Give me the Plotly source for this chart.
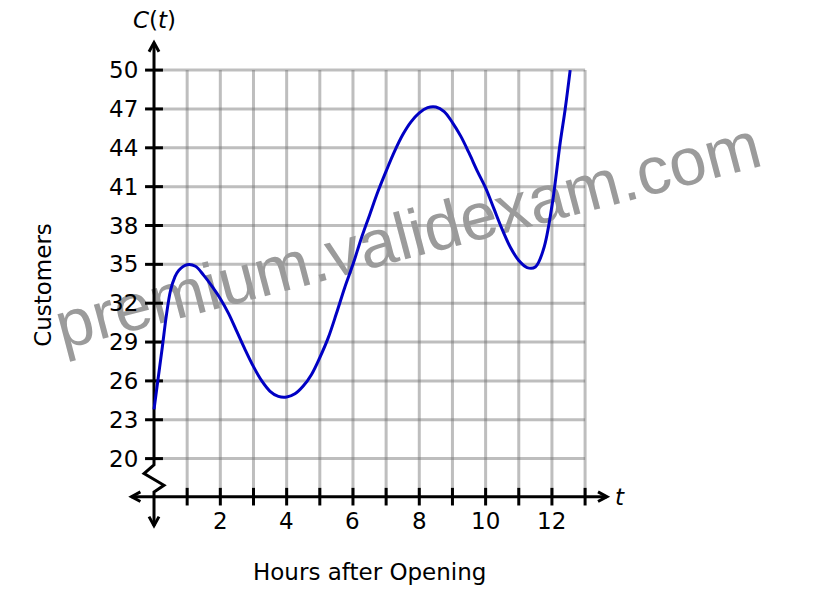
import plotly.graph_objects as go

# values
hours = [0, 0.125, 0.25, 0.375, 0.5, 0.625, 0.75, 1.0, 1.25, 1.5, 1.75, 2.0, 2.25, 2.5,
         2.75, 3.0, 3.25, 3.5, 3.75, 4.0, 4.25, 4.5, 4.75, 5.0, 5.25, 5.5, 5.75, 6.0,
         6.25, 6.5, 6.75, 7.0, 7.25, 7.5, 7.75, 8.0, 8.25, 8.5, 8.75, 9.0, 9.25,
         9.5, 9.75, 10.0, 10.25, 10.5, 10.75, 11.0, 11.25, 11.5, 11.75, 12.0, 12.25,
         12.4, 12.55]
customers = [23.8, 26.2, 28.6, 31.1, 33.0, 34.0, 34.55, 34.97, 34.85, 34.15, 33.3,
             32.35, 31.2, 29.8, 28.4, 27.1, 26.0, 25.2, 24.8, 24.75, 25.0, 25.6,
             26.5, 27.8, 29.3, 31.2, 33.2, 35.0, 37.0, 38.8, 40.6, 42.2, 43.7, 45.0,
             46.0, 46.7, 47.1, 47.15, 46.8, 45.95, 44.9, 43.6, 42.2, 40.9, 39.3,
             37.7, 36.3, 35.3, 34.75, 34.8, 36.2, 39.5, 44.4, 47.0, 50.0]

y_ticks = [20, 23, 26, 29, 32, 35, 38, 41, 44, 47, 50]
x_ticks = list(range(1, 14))
x_labels = [2, 4, 6, 8, 10, 12]

AXIS_Y = 17.06   # height where the t axis is drawn (below the break)
FONT = "DejaVu Sans"

fig = go.Figure()
fig.add_trace(go.Scatter(
    x=hours, y=customers, mode="lines",
    line=dict(color="#0000c4", width=3, shape="spline", smoothing=1.0),
    hoverinfo="skip", showlegend=False,
))

shapes = []
grid = dict(color="rgba(110,110,110,0.45)", width=3)
for v in y_ticks:
    shapes.append(dict(type="line", x0=0, x1=13, y0=v, y1=v, line=grid, layer="between"))
for t in x_ticks:
    shapes.append(dict(type="line", x0=t, x1=t, y0=AXIS_Y, y1=50, line=grid, layer="between"))

# watermark, above the grid but under the curve
shapes.append(dict(
    type="rect", x0=7.55, x1=7.65, y0=37.7, y1=37.8, line=dict(width=0), layer="between",
    label=dict(text="premium.validexam.com", textangle=-14.7, textposition="middle center",
               font=dict(family="Liberation Sans", size=67, color="#9b9b9b")),
))

ax = dict(color="black", width=3)
# t axis
shapes.append(dict(type="line", x0=-0.68, x1=13.66, y0=AXIS_Y, y1=AXIS_Y, line=ax, layer="between"))
shapes.append(dict(type="path", path="M 13.39,17.43 L 13.66,17.06 L 13.39,16.69", line=ax, layer="between"))
shapes.append(dict(type="path", path="M -0.41,17.43 L -0.68,17.06 L -0.41,16.69", line=ax, layer="between"))
# C axis with the zigzag break
shapes.append(dict(type="path",
                   path="M 0,52.12 L 0,19.51 L -0.30,18.84 L 0.30,17.94 L 0,17.42 L 0,14.82",
                   line=ax, layer="between"))
shapes.append(dict(type="path", path="M -0.15,51.42 L 0,52.12 L 0.15,51.42", line=ax, layer="between"))
shapes.append(dict(type="path", path="M -0.15,15.52 L 0,14.82 L 0.15,15.52", line=ax, layer="between"))

for v in y_ticks:
    shapes.append(dict(type="line", x0=-0.27, x1=0.27, y0=v, y1=v, line=ax, layer="between"))
for t in x_ticks:
    shapes.append(dict(type="line", x0=t, x1=t, y0=AXIS_Y - 0.68, y1=AXIS_Y + 0.68, line=ax, layer="between"))

annotations = []
txt = dict(family=FONT, size=23, color="black")
for v in y_ticks:
    annotations.append(dict(x=-0.42, y=v, text=str(v), showarrow=False, xanchor="right",
                            yanchor="middle", font=txt))
for t in x_labels:
    annotations.append(dict(x=t, y=15.17, text=str(t), showarrow=False, xanchor="center",
                            yanchor="middle", font=txt))
annotations.append(dict(x=14.05, y=AXIS_Y, text="<i>t</i>", showarrow=False,
                        xanchor="center", yanchor="middle", font=txt))
annotations.append(dict(x=0.02, y=53.9, text="<i>C</i>(<i>t</i>)", borderpad=0,
                        showarrow=False, xanchor="center", yanchor="middle", font=txt))
annotations.append(dict(x=-3.35, y=33.41, text="Customers", textangle=-90,
                        showarrow=False, xanchor="center", yanchor="middle", font=txt))
annotations.append(dict(x=6.51, y=11.24, text="Hours after Opening",
                        showarrow=False, xanchor="center", yanchor="middle", font=txt))

# plot area spans the whole page so the watermark is not clipped
fig.update_layout(
    width=832, height=592,
    margin=dict(l=0, r=0, t=0, b=0),
    paper_bgcolor="white", plot_bgcolor="white",
    xaxis=dict(range=[-4.403, 20.687], visible=False, fixedrange=True),
    yaxis=dict(range=[9.081, 54.795], visible=False, fixedrange=True),
    shapes=shapes, annotations=annotations,
)

fig.write_html("out.html")
